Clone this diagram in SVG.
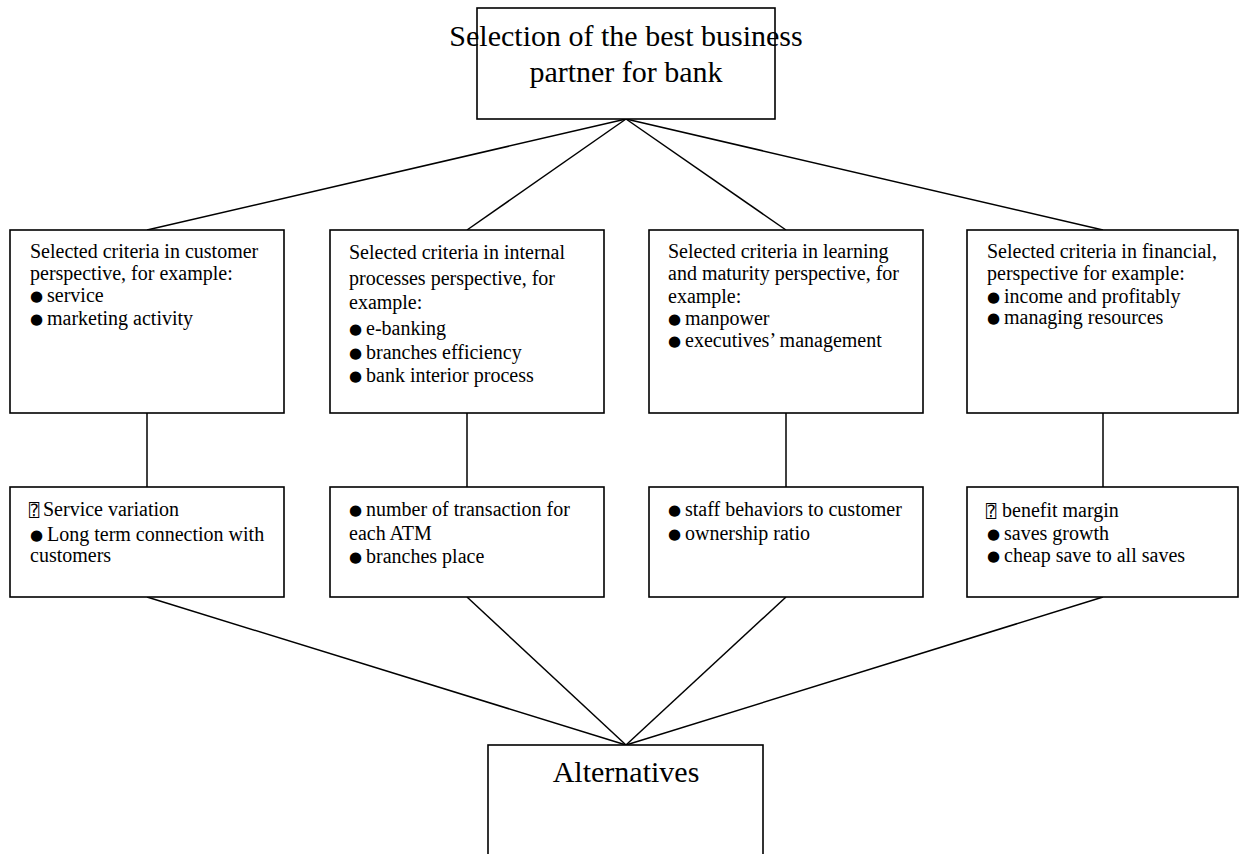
<svg xmlns="http://www.w3.org/2000/svg" width="1241" height="854" viewBox="0 0 1241 854">
<style>
.box{fill:#fff;stroke:#000;stroke-width:1.6}
.ln{stroke:#000;stroke-width:1.5;fill:none}
.t{font-family:"Liberation Serif","Times New Roman",serif;font-size:20px;fill:#000}
.big{font-family:"Liberation Serif","Times New Roman",serif;font-size:30px;fill:#000;text-anchor:middle}
.b{font-family:"DejaVu Sans",sans-serif;font-size:15px}
.q{font-family:"DejaVu Sans Mono","DejaVu Sans",monospace;font-size:17px}
</style>
<rect width="1241" height="854" fill="#fff"/>
<g id="connectors">
<line class="ln" x1="626" y1="119" x2="147" y2="230"/>
<line class="ln" x1="626" y1="119" x2="467" y2="230"/>
<line class="ln" x1="626" y1="119" x2="786" y2="230"/>
<line class="ln" x1="626" y1="119" x2="1103" y2="230"/>
<line class="ln" x1="147" y1="413" x2="147" y2="487"/>
<line class="ln" x1="467" y1="413" x2="467" y2="487"/>
<line class="ln" x1="786" y1="413" x2="786" y2="487"/>
<line class="ln" x1="1103" y1="413" x2="1103" y2="487"/>
<line class="ln" x1="147" y1="597" x2="626" y2="745"/>
<line class="ln" x1="467" y1="597" x2="626" y2="745"/>
<line class="ln" x1="786" y1="597" x2="626" y2="745"/>
<line class="ln" x1="1103" y1="597" x2="626" y2="745"/>
</g>
<g id="goal">
<rect class="box" x="477" y="8" width="298" height="111"/>
<text class="big" x="626" y="46">Selection of the best business</text>
<text class="big" x="626" y="82">partner for bank</text>
</g>
<g id="c1">
<rect class="box" x="10" y="230" width="274" height="183"/>
<text class="t" x="30" y="258">Selected criteria in customer</text>
<text class="t" x="30" y="280">perspective, for example:</text>
<text class="t" y="302"><tspan class="b" x="30" dy="-1">●</tspan><tspan x="47" dy="1">service</tspan></text>
<text class="t" y="325"><tspan class="b" x="30" dy="-1">●</tspan><tspan x="47" dy="1">marketing activity</tspan></text>
</g>
<g id="c2">
<rect class="box" x="330" y="230" width="274" height="183"/>
<text class="t" x="349" y="259">Selected criteria in internal</text>
<text class="t" x="349" y="285">processes perspective, for</text>
<text class="t" x="349" y="309">example:</text>
<text class="t" y="335"><tspan class="b" x="349" dy="-1">●</tspan><tspan x="366" dy="1">e-banking</tspan></text>
<text class="t" y="359"><tspan class="b" x="349" dy="-1">●</tspan><tspan x="366" dy="1">branches efficiency</tspan></text>
<text class="t" y="382"><tspan class="b" x="349" dy="-1">●</tspan><tspan x="366" dy="1">bank interior process</tspan></text>
</g>
<g id="c3">
<rect class="box" x="649" y="230" width="274" height="183"/>
<text class="t" x="668" y="258">Selected criteria in learning</text>
<text class="t" x="668" y="280">and maturity perspective, for</text>
<text class="t" x="668" y="303">example:</text>
<text class="t" y="325"><tspan class="b" x="668" dy="-1">●</tspan><tspan x="685" dy="1">manpower</tspan></text>
<text class="t" y="347"><tspan class="b" x="668" dy="-1">●</tspan><tspan x="685" dy="1">executives’ management</tspan></text>
</g>
<g id="c4">
<rect class="box" x="967" y="230" width="271" height="183"/>
<text class="t" x="987" y="258">Selected criteria in financial,</text>
<text class="t" x="987" y="280">perspective for example:</text>
<text class="t" y="303"><tspan class="b" x="987" dy="-1">●</tspan><tspan x="1004" dy="1">income and profitably</tspan></text>
<text class="t" y="324"><tspan class="b" x="987" dy="-1">●</tspan><tspan x="1004" dy="1">managing resources</tspan></text>
</g>
<g id="s1">
<rect class="box" x="10" y="487" width="274" height="110"/>
<text class="t" y="516"><tspan class="q" x="29">⍰</tspan><tspan x="43">Service variation</tspan></text>
<text class="t" y="541"><tspan class="b" x="30" dy="-1">●</tspan><tspan x="47" dy="1">Long term connection with</tspan></text>
<text class="t" x="30" y="562">customers</text>
</g>
<g id="s2">
<rect class="box" x="330" y="487" width="274" height="110"/>
<text class="t" y="516"><tspan class="b" x="349" dy="-1">●</tspan><tspan x="366" dy="1">number of transaction for</tspan></text>
<text class="t" x="349" y="540">each ATM</text>
<text class="t" y="563"><tspan class="b" x="349" dy="-1">●</tspan><tspan x="366" dy="1">branches place</tspan></text>
</g>
<g id="s3">
<rect class="box" x="649" y="487" width="274" height="110"/>
<text class="t" y="516"><tspan class="b" x="668" dy="-1">●</tspan><tspan x="685" dy="1">staff behaviors to customer</tspan></text>
<text class="t" y="540"><tspan class="b" x="668" dy="-1">●</tspan><tspan x="685" dy="1">ownership ratio</tspan></text>
</g>
<g id="s4">
<rect class="box" x="967" y="487" width="271" height="110"/>
<text class="t" y="517"><tspan class="q" x="986">⍰</tspan><tspan x="1002">benefit margin</tspan></text>
<text class="t" y="540"><tspan class="b" x="987" dy="-1">●</tspan><tspan x="1004" dy="1">saves growth</tspan></text>
<text class="t" y="562"><tspan class="b" x="987" dy="-1">●</tspan><tspan x="1004" dy="1">cheap save to all saves</tspan></text>
</g>
<g id="alternatives">
<rect class="box" x="488" y="745" width="275" height="120"/>
<text class="big" x="626" y="782">Alternatives</text>
</g>
</svg>
